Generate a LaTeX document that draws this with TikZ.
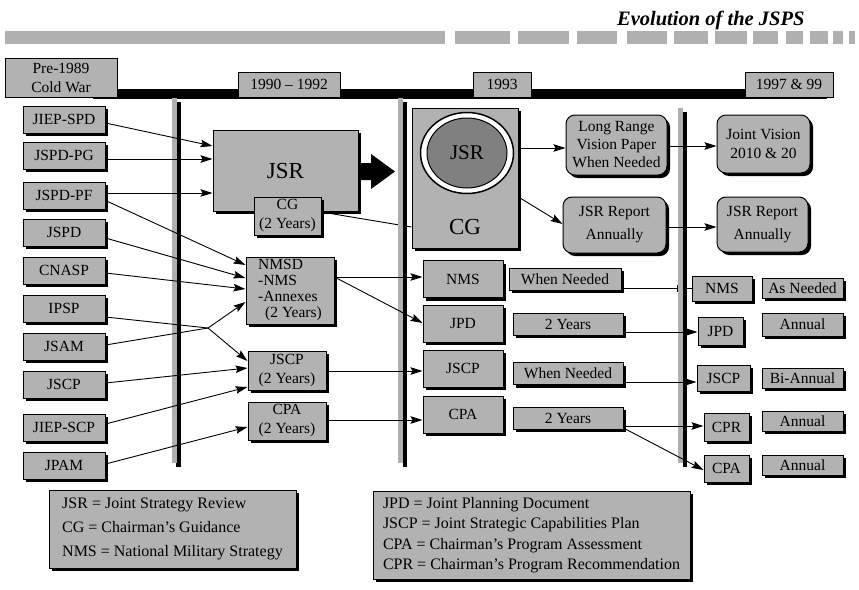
\documentclass[tikz,border=0pt]{standalone}
\usepackage{fontspec}
\setmainfont{Liberation Serif}
\usetikzlibrary{arrows.meta,shadows,shapes.geometric}

\definecolor{boxgray}{gray}{0.70}
\definecolor{bargray}{gray}{0.69}
\definecolor{discgray}{gray}{0.50}

\newcommand\lblfont{\fontsize{15.5}{19}\selectfont}
\newcommand\bigfont{\fontsize{23}{26}\selectfont}
\newcommand\legfont{\fontsize{16}{24}\selectfont}

\pgfdeclarelayer{behind}
\pgfsetlayers{behind,main}

\tikzset{
  shade3/.style={drop shadow={shadow xshift=3pt,shadow yshift=-3pt,fill=black,opacity=1}},
  yearbox/.style={draw=black,line width=1pt,fill=boxgray,inner sep=0pt,font=\lblfont,align=center},
  card/.style={yearbox,shade3},
  softbox/.style={card,rounded corners=9pt},
  plain/.style={line width=0.9pt},
  conn/.style={plain,-{Stealth[length=12pt,width=7.5pt,inset=2pt]}},
}

\begin{document}
\begin{tikzpicture}[x=1pt,y=-1pt]
\useasboundingbox (0,0) rectangle (859,589);

% heading and dashed rule
\node[anchor=base east,font=\bfseries\itshape\fontsize{20.5}{23}\selectfont] (title) at (808,25) {Evolution of the JSPS};
\foreach \a/\b in {5/445,455/510,518/569,577/617,627/667,674/708,715/747,753/778,786/803,810/828,833/843,849/855}
  \fill[bargray] (\a,31) rectangle (\b,44);

% time line
\fill[black] (93,89) rectangle (827,99);
\node[yearbox,minimum width=112pt,minimum height=39pt] (pre) at (61,77.5) {Pre-1989\\Cold War};
\node[yearbox,minimum width=102pt,minimum height=25pt] (ya) at (289,84.5) {1990 -- 1992};
\node[yearbox,minimum width=58pt,minimum height=25pt] (yb) at (502,84.5) {1993};
\node[yearbox,minimum width=88pt,minimum height=25pt] (yc) at (789,84.5) {1997 \& 99};

% period separators
\foreach \g/\t in {171.5/98,398/98,678/108}{
  \fill[black] (\g+4.5,\t+4) rectangle (\g+9,467);
  \fill[bargray] (\g,\t) rectangle (\g+5,463);
}

% pre-1989 documents
\foreach \n/\y/\t in {jiepspd/119.5/JIEP-SPD,jspdpg/155.5/JSPD-PG,jspdpf/195.5/JSPD-PF,
  jspd/232.5/JSPD,cnasp/270.5/CNASP,ipsp/308.5/IPSP,jsam/346.5/JSAM,jscp/384.5/JSCP,
  jiepscp/427.5/JIEP-SCP,jpam/465.5/JPAM}
  \node[card,minimum width=82pt,minimum height=27pt] (\n) at (64,\y) {\t};

% 1990 - 1992
\node[card,minimum width=145pt,minimum height=81pt,font=\bigfont] (jsr1) at (285.5,170.5) {JSR};
\node[card,minimum width=67pt,minimum height=38pt] (cg1) at (287.5,216) {CG\\(2 Years)};
\node[card,minimum width=88pt,minimum height=67pt,align=left,font=\fontsize{15.5}{16}\selectfont] (nmsd) at (290,290.5)
  {NMSD\\-NMS\\-Annexes\\\hspace*{7pt}(2 Years)};
\node[card,minimum width=78pt,minimum height=39pt] (jscp2y) at (287,370.5) {JSCP\\(2 Years)};
\node[card,minimum width=78pt,minimum height=38pt] (cpa2y) at (287,421) {CPA\\(2 Years)};

% 1993
\node[card,minimum width=106pt,minimum height=140pt] (big) at (465,178) {};
\node[ellipse,draw,line width=1.5pt,fill=white,minimum width=93pt,minimum height=81pt] (ring) at (467,153) {};
\node[ellipse,draw,line width=1pt,fill=discgray,minimum width=80pt,minimum height=70pt,font=\fontsize{21}{24}\selectfont] (disc) at (467,153) {JSR};
\node[font=\bigfont] (bigcg) at (465,227) {CG};

\node[softbox,minimum width=101pt,minimum height=60pt,font=\fontsize{15.5}{18}\selectfont] (lrv) at (616.5,145) {Long Range\\Vision Paper\\When Needed};
\node[softbox,minimum width=103pt,minimum height=56pt] (jsrrep1) at (614.5,225) {JSR Report\\[4pt]Annually};

\foreach \n/\y/\t in {nms93/279/NMS,jpd93/323.5/JPD,jscp93/368.5/JSCP,cpa93/414.5/CPA}
  \node[card,minimum width=80pt,minimum height=37pt] (\n) at (463,\y) {\t};
\node[card,minimum width=112pt,minimum height=22pt] (wn1) at (565,279) {When Needed};
\node[card,minimum width=110pt,minimum height=22pt] (y2a) at (568,324) {2 Years};
\node[card,minimum width=110pt,minimum height=22pt] (wn2) at (568,373.5) {When Needed};
\node[card,minimum width=110pt,minimum height=22pt] (y2b) at (568,418) {2 Years};

% 1997 & 99
\node[softbox,minimum width=93pt,minimum height=58pt] (jv) at (763.5,144) {Joint Vision\\2010 \& 20};
\node[softbox,minimum width=91pt,minimum height=55pt] (jsrrep2) at (762.5,224.5) {JSR Report\\[4pt]Annually};
\node[card,minimum width=60pt,minimum height=25pt] (nms97) at (722,288.5) {NMS};
\node[card,minimum width=45pt,minimum height=28pt] (jpd97) at (720.5,331) {JPD};
\node[card,minimum width=53pt,minimum height=26pt] (jscp97) at (723.5,378) {JSCP};
\node[card,minimum width=45pt,minimum height=28pt] (cpr97) at (726.5,427) {CPR};
\node[card,minimum width=45pt,minimum height=27pt] (cpa97) at (726.5,468.5) {CPA};
\node[card,minimum width=81pt,minimum height=20pt] (asn) at (802.5,288) {As Needed};
\node[card,minimum width=81pt,minimum height=23pt] (ann1) at (802.5,324.5) {Annual};
\node[card,minimum width=81pt,minimum height=20pt] (bian) at (802.5,378) {Bi-Annual};
\node[card,minimum width=81pt,minimum height=20pt] (ann2) at (802.5,421) {Annual};
\node[card,minimum width=81pt,minimum height=20pt] (ann3) at (802.5,465) {Annual};

% legends
\node[card,minimum width=247pt,minimum height=78pt,align=left,font=\legfont] (legl) at (172.5,529)
  {JSR = Joint Strategy Review\\CG = Chairman's Guidance\\NMS = National Military Strategy};
\node[card,minimum width=317pt,minimum height=88pt,align=left,font=\fontsize{16}{20.5}\selectfont] (legr) at (531.5,535)
  {JPD = Joint Planning Document\\JSCP = Joint Strategic Capabilities Plan\\CPA = Chairman's Program Assessment\\CPR = Chairman's Program Recommendation};

% guidance carried forward, passing under the boxes
\begin{pgfonlayer}{behind}
  \draw[plain] (cg1.east |- 0,212) -- (big.west |- 0,227);
\end{pgfonlayer}

% inputs to the 1990 - 1992 products
\draw[conn] (jiepspd.east |- 0,123) -- (jsr1.west |- 0,146);
\draw[conn] (jspdpg.east |- 0,159) -- (jsr1.west |- 0,159);
\draw[conn] (jspdpf.east |- 0,193) -- (jsr1.west |- 0,193);
\draw[conn] (jspdpf.east |- 0,200.5) -- (nmsd.west |- 0,265);
\draw[conn] (jspd.east |- 0,238) -- (nmsd.west |- 0,278);
\draw[conn] (cnasp.east |- 0,273) -- (nmsd.west |- 0,289);
\coordinate (cross) at (208,328);
\draw[conn] (ipsp.east |- 0,317) -- (cross) -- (jscp2y.west |- 0,361);
\draw[conn] (jsam.east |- 0,345) -- (cross) -- (nmsd.west |- 0,302);
\draw[conn] (jscp.east |- 0,383) -- (jscp2y.west |- 0,368);
\draw[conn] (jiepscp.east |- 0,424) -- (jscp2y.west |- 0,387);
\draw[conn] (jpam.east |- 0,464) -- (cpa2y.west |- 0,427);

% JSR becomes the 1993 process
\fill[black] (jsr1.east |- 0,163) -- (371,163) -- (371,154) -- (395,171.5) -- (371,189) -- (371,180) -- (jsr1.east |- 0,180) -- cycle;

% 1990 - 1992 to 1993
\draw[conn] (nmsd.east |- 0,277) -- (nms93.west |- 0,277);
\draw[conn] (nmsd.east |- 0,277) -- (jpd93.west |- 0,323);
\draw[conn] (jscp2y.east |- 0,371) -- (jscp93.west |- 0,371);
\draw[conn] (cpa2y.east |- 0,420) -- (cpa93.west |- 0,420);

\draw[conn] (big.east |- 0,148) -- (lrv.west |- 0,148);
\draw[conn] (big.east |- 0,197) -- (jsrrep1.west |- 0,224);

% 1993 to 1997 & 99
\draw[conn] (lrv.east |- 0,146) -- (jv.west |- 0,146);
\draw[conn] (jsrrep1.east |- 0,227) -- (jsrrep2.west |- 0,227);
\coordinate (gatein) at (678,288);
\coordinate (gateout) at (687,288);
\draw[plain,-{Bar[width=7pt]}] (wn1.east |- gatein) -- (gatein);
\draw[plain] (gateout) -- (nms97.west |- gateout);
\draw[conn] (y2a.east |- 0,332) -- (jpd97.west |- 0,332);
\draw[conn] (wn2.east |- 0,382) -- (jscp97.west |- 0,382);
\draw[conn] (y2b.east |- 0,426) -- (cpr97.west |- 0,426);
\draw[conn] (y2b.east |- 0,428) -- (cpa97.west |- 0,470);
\end{tikzpicture}
\end{document}
